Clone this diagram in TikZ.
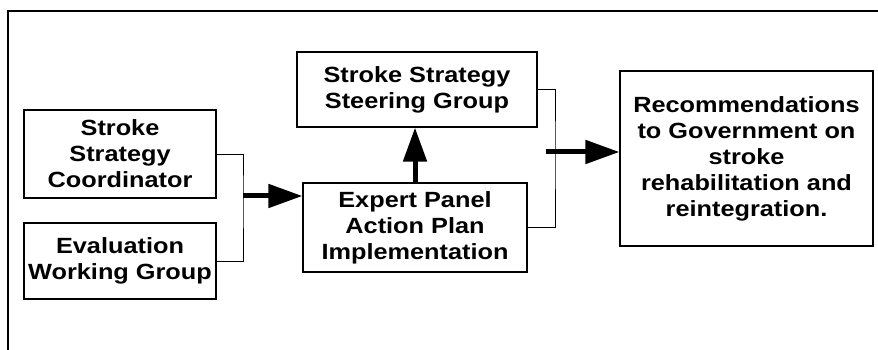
\documentclass[tikz,border=0pt]{standalone}
\usepackage{fontspec}
\usepackage{tikz}
\usetikzlibrary{arrows.meta}
\newfontfamily\boxfont{Liberation Sans}[FakeStretch=1.15]

\begin{document}
\begin{tikzpicture}[x=1pt, y=1pt,
        box/.style={draw=black, line width=1.2pt, align=center, inner sep=0pt,
            font=\boxfont\bfseries\fontsize{22}{26}\selectfont},
        link/.style={black, line width=0.8pt},
        bigarrow/.style={black, line width=5pt, -{Triangle[length=34pt,width=23pt]}}]
        \useasboundingbox (0,0) rectangle (878,350);
        % outer frame, open to the right and below
        \draw[black, line width=2pt] (8,0) -- (8,339) -- (878,339);
        % boxes
        \node[box, minimum width=192, minimum height=88] (coord) at (120,196) {Stroke\\Strategy\\Coordinator};
        \node[box, minimum width=192, minimum height=76] (eval) at (120,89) {Evaluation\\Working Group};
        \node[box, minimum width=224, minimum height=89] (panel) at (415,122.5) {Expert Panel\\Action Plan\\Implementation};
        \node[box, minimum width=240, minimum height=75] (steer) at (417,260.5) {Stroke Strategy\\Steering Group};
        \node[box, minimum width=253, minimum height=175] (recs) at (746.5,191.5) {Recommendations\\to Government on\\stroke\\rehabilitation and\\reintegration.};
        % left bracket into the panel
        \coordinate (lj) at (243,154);
        \draw[link] (coord.east) -| (lj) |- (eval.east);
        \draw[bigarrow] (lj) -- (lj -| panel.west);
        % panel up to steering group
        \draw[bigarrow] (panel.north) -- (panel.north |- steer.south);
        % right bracket into the recommendations
        \coordinate (rj) at (555,198);
        \draw[link] (steer.east) -| (rj) |- (panel.east);
        \coordinate (rs) at (546,198);
        \draw[bigarrow] (rs) -- (rs -| recs.west);
\end{tikzpicture}
\end{document}
